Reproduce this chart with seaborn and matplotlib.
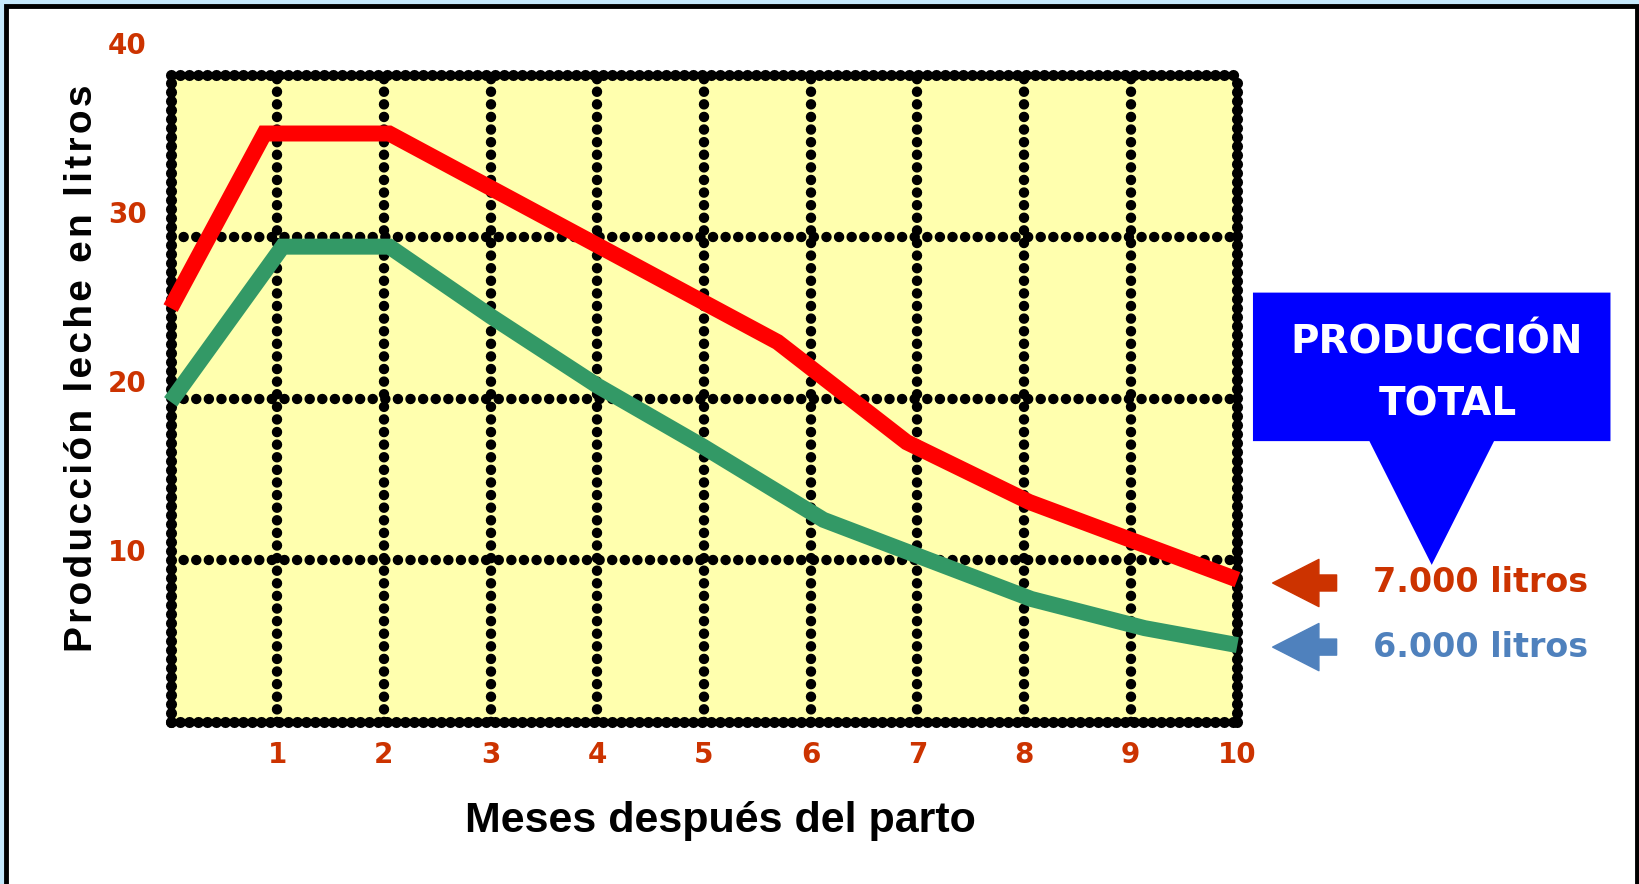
import matplotlib

matplotlib.use("Agg")
import matplotlib.pyplot as plt
import matplotlib.transforms as mtransforms
from matplotlib.patches import FancyArrowPatch, Polygon, Rectangle
import seaborn as sns


# lactation curves (month after calving, litres per day)
MONTHS_7000 = [0, 0.88, 2.05, 5.69, 6.9, 8.05, 10]
LITERS_7000 = [25.6, 36.4, 36.4, 23.5, 17.3, 13.6, 8.8]
MONTHS_6000 = [0, 1.05, 2.05, 3, 4, 5, 6.12, 8.07, 9.13, 10]
LITERS_6000 = [19.8, 29.4, 29.4, 25.1, 20.8, 17.0, 12.5, 7.6, 5.8, 4.75]

X_TICKS = list(range(1, 11))
Y_GRID = [10, 20, 30]
Y_TICKS = [10, 20, 30, 40]
Y_LABEL = "Producción leche en litros"
X_LABEL = "Meses después del parto"
CALLOUT_LINES = ["PRODUCCIÓN", "TOTAL"]
TOTAL_LABELS = ["7.000 litros", "6.000 litros"]

RED = "#ff0000"
GREEN = "#339966"
TICK_RED = "#cc3300"
ARROW_BLUE = "#4f81bd"
CALLOUT_BLUE = "#0000ff"
PANEL_YELLOW = "#ffffae"
LIGHT_BLUE = "#c5e8fb"

# round dots: near-zero dash with round caps
DOTS = (0, (0.01, 1.2))
DOTS_DENSE = (0, (0.01, 0.8))


def draw_chart():
    sns.set_theme(style="white")
    plt.rcParams["font.family"] = ["DejaVu Sans"]

    fig = plt.figure(figsize=(16.4, 8.84), dpi=100, facecolor=LIGHT_BLUE)
    fig.add_artist(Rectangle((0.0037, -0.02), 0.9943, 1.013, transform=fig.transFigure,
                             facecolor="white", edgecolor="black", linewidth=3.5, zorder=-1))

    ax = fig.add_axes([0.104, 0.1834, 0.6505, 0.7314])
    ax.set_facecolor(PANEL_YELLOW)
    ax.set_xlim(0, 10)
    ax.set_ylim(0, 40)
    for spine in ax.spines.values():
        spine.set_visible(False)

    # dotted grid and dotted frame
    ax.set_xticks(X_TICKS)
    ax.set_yticks(Y_GRID)
    grid_kw = dict(color="black", linewidth=7.5, linestyle=DOTS,
                   dash_capstyle="round", zorder=2)
    for x in X_TICKS[:-1]:
        ax.axvline(x, **grid_kw)
    for y in Y_GRID:
        ax.axhline(y, **grid_kw)
    frame_kw = dict(color="black", linewidth=8, linestyle=DOTS_DENSE,
                    dash_capstyle="round", clip_on=False, zorder=3)
    x0, x1 = ax.get_xlim()
    y0, y1 = ax.get_ylim()
    ax.axhline(y0, **frame_kw)
    ax.axhline(y1, **frame_kw)
    ax.axvline(x0, **frame_kw)
    ax.axvline(x1, **frame_kw)

    line_kw = dict(sort=False, linewidth=11.5, solid_joinstyle="miter",
                   solid_capstyle="butt", clip_on=False, zorder=5)
    sns.lineplot(x=MONTHS_7000, y=LITERS_7000, color=RED, ax=ax, **line_kw)
    sns.lineplot(x=MONTHS_6000, y=LITERS_6000, color=GREEN, ax=ax, **line_kw)

    ax.tick_params(axis="x", length=0, pad=14)
    ax.set_xticklabels([str(t) for t in X_TICKS], fontsize=20, fontweight="bold", color=TICK_RED)
    ax.tick_params(axis="y", length=0, labelleft=False)

    # the original y labels sit on a slightly stretched scale
    trans = mtransforms.blended_transform_factory(ax.transAxes, ax.transData)
    for v in Y_TICKS:
        ax.text(-0.0225, v * 1.045, str(v), transform=trans, ha="right", va="center",
                fontsize=20, fontweight="bold", color=TICK_RED, clip_on=False)

    fig.text(0.05, 0.583, "\u200a".join(Y_LABEL), rotation=90, ha="center", va="center",
             fontsize=28, fontweight="bold", color="black",
             family=["Liberation Sans", "DejaVu Sans"])
    fig.text(0.439, 0.071, X_LABEL, ha="center", va="center", fontsize=31,
             fontweight="bold", color="black", family=["Liberation Sans", "DejaVu Sans"])

    # callout box
    callout = [(0.764, 0.669), (0.982, 0.669), (0.982, 0.501), (0.911, 0.501),
               (0.873, 0.361), (0.835, 0.501), (0.764, 0.501)]
    fig.add_artist(Polygon(callout, closed=True, transform=fig.transFigure,
                           facecolor=CALLOUT_BLUE, edgecolor="none"))
    fig.text(0.876, 0.613, CALLOUT_LINES[0], ha="center", va="center", fontsize=28,
             fontweight="bold", color="white")
    fig.text(0.883, 0.542, CALLOUT_LINES[1], ha="center", va="center", fontsize=28,
             fontweight="bold", color="white")

    for label, color, y in zip(TOTAL_LABELS, [TICK_RED, ARROW_BLUE], [0.3405, 0.268]):
        fig.add_artist(FancyArrowPatch(
            (0.815, y), (0.776, y), transform=fig.transFigure,
            arrowstyle="simple,head_length=0.98,head_width=1.0,tail_width=0.34",
            mutation_scale=34, color=color, shrinkA=0, shrinkB=0))
        fig.text(0.837, y, label, ha="left", va="center", fontsize=24,
                 fontweight="bold", color=color)

    fig.savefig("out.png", dpi=100, facecolor=fig.get_facecolor())
    plt.close(fig)


if __name__ == "__main__":
    draw_chart()
